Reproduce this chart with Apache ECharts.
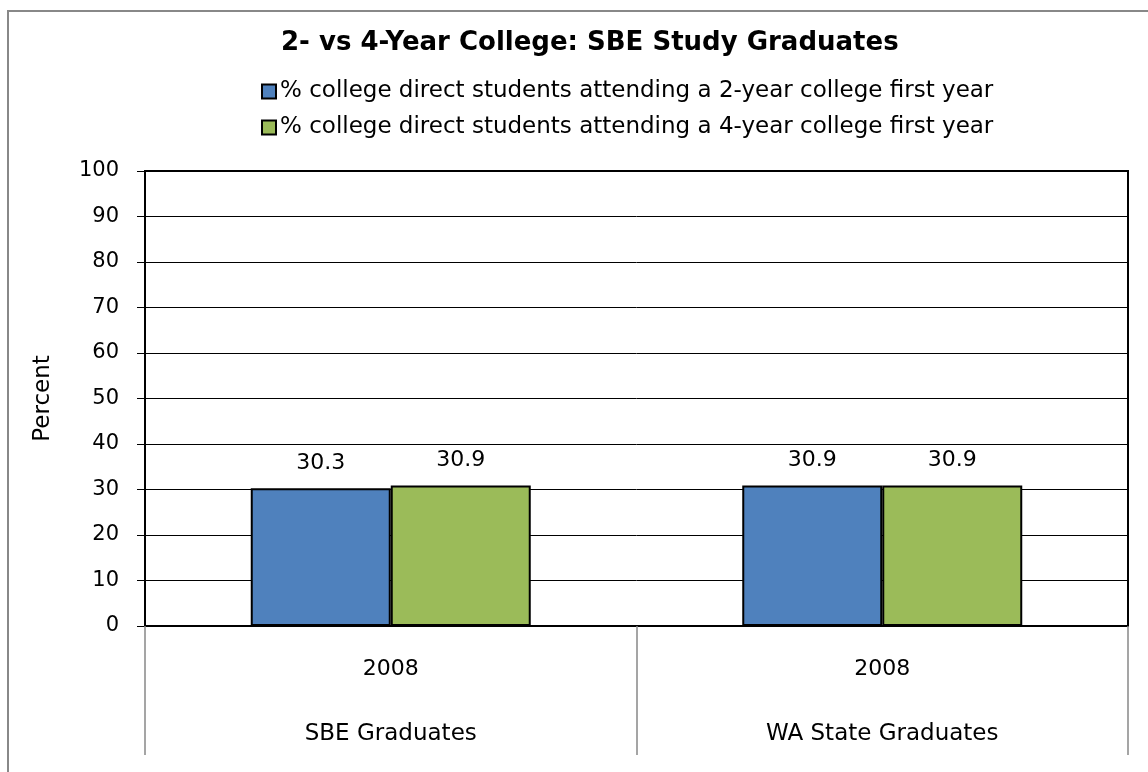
<!DOCTYPE html>
<html>
<head>
<meta charset="utf-8">
<script src="https://cdn.jsdelivr.net/npm/echarts@6/dist/echarts.min.js"></script>
<style>html,body{margin:0;padding:0;background:#fff;}#chart{width:1148px;height:772px;}</style>
</head>
<body>
<div id="chart"></div>
<script>
const titleText = '2- vs 4-Year College: SBE Study Graduates';
const yearLabels = ['2008', '2008'];
const groupLabels = ['SBE Graduates', 'WA State Graduates'];
const seriesNames = [
  '% college direct students attending a 2-year college first year',
  '% college direct students attending a 4-year college first year'
];
const twoYearValues = [30.3, 30.9];
const fourYearValues = [30.9, 30.9];
const yTicks = { min: 0, max: 100, interval: 10 };
const yAxisName = 'Percent';

const FONT = 'DejaVu Sans';
const chart = echarts.init(document.getElementById('chart'));
const barStyle = (color) => ({ color: color, borderColor: '#000', borderWidth: 2 });
const labelStyle = { show: true, position: 'top', distance: 14, color: '#000', fontFamily: FONT, fontSize: 22, formatter: (p) => p.value.toFixed(1) };

chart.setOption({
  animation: false,
  backgroundColor: '#fff',
  graphic: [{
    type: 'rect', shape: { x: 8, y: 11, width: 1160, height: 800 },
    style: { fill: 'none', stroke: '#888', lineWidth: 2 }, z: -10
  }],
  title: {
    text: titleText, left: 276, top: 25,
    textStyle: { fontFamily: FONT, fontSize: 26, fontWeight: 'bold', color: '#000' }
  },
  legend: {
    orient: 'vertical', left: 256, top: 75, itemWidth: 14, itemHeight: 14, itemGap: 13,
    icon: 'rect',
    textStyle: { fontFamily: FONT, fontSize: 23, color: '#000', padding: [0, 0, 0, -1] },
    data: seriesNames
  },
  grid: { left: 145, right: 20, top: 171, bottom: 146, show: true, borderColor: '#000', borderWidth: 2 },
  xAxis: [{
    type: 'category', data: yearLabels, position: 'bottom',
    axisLine: { show: true, lineStyle: { color: '#000', width: 2 } },
    axisTick: { show: true, length: 129, lineStyle: { color: '#888', width: 1.5 } },
    axisLabel: { margin: 32, color: '#000', fontFamily: FONT, fontSize: 22 }
  }, {
    type: 'category', data: groupLabels, position: 'bottom', offset: 0,
    axisLine: { show: false }, axisTick: { show: false },
    axisLabel: { margin: 97, color: '#000', fontFamily: FONT, fontSize: 23 }
  }],
  yAxis: {
    type: 'value', min: yTicks.min, max: yTicks.max, interval: yTicks.interval,
    name: yAxisName, nameLocation: 'middle', nameGap: 90, nameRotate: 90,
    nameTextStyle: { fontFamily: FONT, fontSize: 23, color: '#000' },
    axisLine: { show: true, lineStyle: { color: '#000', width: 2 } },
    axisTick: { show: true, inside: false, length: 8, lineStyle: { color: '#000' } },
    axisLabel: { margin: 26, color: '#000', fontFamily: FONT, fontSize: 21 },
    splitLine: { show: true, lineStyle: { color: '#000', width: 1 } }
  },
  series: [{
    name: seriesNames[0], type: 'bar', data: twoYearValues, xAxisIndex: 0,
    barWidth: 140, barGap: '0%', itemStyle: barStyle('#4F81BD'), label: labelStyle
  }, {
    name: seriesNames[1], type: 'bar', data: fourYearValues, xAxisIndex: 0,
    barWidth: 140, barGap: '0%', itemStyle: barStyle('#9BBB59'), label: labelStyle
  }]
});
</script>
</body>
</html>
